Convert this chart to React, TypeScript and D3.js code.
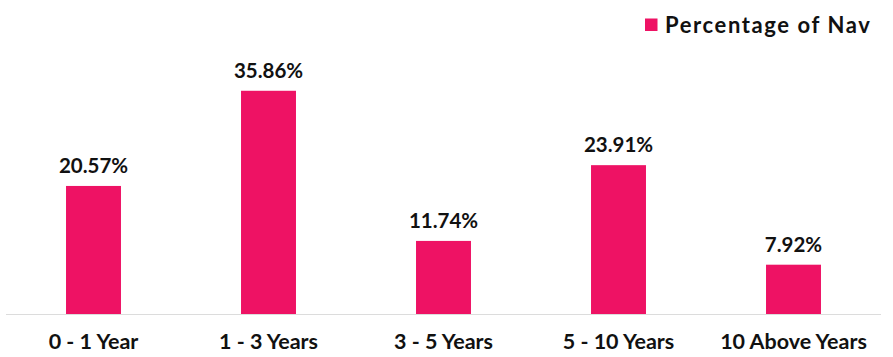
import React from "react";
import * as d3 from "d3";

const categories = ["0 - 1 Year", "1 - 3 Years", "3 - 5 Years", "5 - 10 Years", "10 Above Years"];
const values = [20.57, 35.86, 11.74, 23.91, 7.92];
const seriesName = "Percentage of Nav";

const W = 893;
const H = 357;
const left = 6;
const right = 881;
const baseY = 314;
const color = "#EE1264";
const font = "Lato, 'Noto Sans', sans-serif";

export default function App() {
  const x = d3.scaleBand<string>().domain(categories).range([left, right]).paddingInner(0.686).paddingOuter(0.343);
  const y = d3.scaleLinear().domain([0, 40]).range([baseY, baseY - 249]);
  return (
    <svg width={W} height={H} style={{ position: "absolute", left: 0, top: 0 }}>
      <rect x={645} y={18.5} width={12.5} height={12.5} fill={color} />
      <text x={665} y={32.7} fontFamily={font} fontWeight={700} fontSize={22} fill="#111" letterSpacing={1.6}>
        {seriesName}
      </text>
      {categories.map((c, i) => (
        <g key={c}>
          <rect x={x(c)} y={y(values[i])} width={x.bandwidth()} height={baseY - y(values[i])} fill={color} />
          <text x={(x(c) as number) + x.bandwidth() / 2} y={y(values[i]) - 12.7} textAnchor="middle" fontFamily={font} fontWeight={700} fontSize={20.5} fill="#111">
            {values[i].toFixed(2) + "%"}
          </text>
          <text x={(x(c) as number) + x.bandwidth() / 2} y={349.3} textAnchor="middle" fontFamily={font} fontWeight={700} fontSize={21.5} fill="#111">
            {c}
          </text>
        </g>
      ))}
      <line x1={left} x2={right} y1={baseY + 0.5} y2={baseY + 0.5} stroke="#dcdcdc" strokeWidth={1} />
    </svg>
  );
}
